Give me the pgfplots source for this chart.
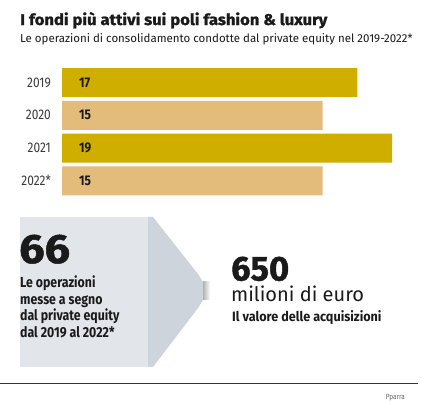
\documentclass[border=0pt]{standalone}
\usepackage{fontspec}
\setmainfont[FakeStretch=0.85]{Fira Sans}
\newfontfamily\heavyfont[BoldFeatures={FakeBold=1.2}]{Fira Sans}
\newfontfamily\widefont{Fira Sans}
\usepackage{pgfplots}
\pgfplotsset{compat=1.18}
\usepackage{pgfplotstable}

\definecolor{gold}{HTML}{CFAE00}
\definecolor{tanbar}{HTML}{E3BC7B}
\definecolor{boxlight}{HTML}{E2E5E9}
\definecolor{boxdark}{HTML}{CED4DB}
\definecolor{ink}{HTML}{1A1A1A}

% operazioni per anno (idx 0 = 2019)
\pgfplotstableread{
idx value
0 17
2 19
}\darkrows
\pgfplotstableread{
idx value
1 15
3 15
}\lightrows
\pgfplotstableread{
idx value
0 17
1 15
2 19
3 15
}\alldata

\begin{document}
\begin{tikzpicture}[x=1bp, y=1bp]
  \path[use as bounding box, fill=white] (0,0) rectangle (422,401);

  % titles
  \node[anchor=base west, inner sep=0pt, text=ink] at (20,376)
    {\scalebox{1.07}[1]{\heavyfont\bfseries\fontsize{15.5bp}{18bp}\selectfont I fondi più attivi sui poli fashion \& luxury}};
  \node[anchor=base west, inner sep=0pt, text=ink] at (20,359)
    {\widefont\fontsize{11.5bp}{14bp}\selectfont Le operazioni di consolidamento condotte dal private equity nel 2019-2022*};

  \begin{axis}[
      at={(62bp,334.8bp)}, anchor=north west,
      scale only axis,
      width=330bp, height=131bp,
      xmin=0, xmax=19,
      ymin=-0.5, ymax=3.5,
      y dir=reverse,
      axis line style={draw=none},
      xtick=\empty,
      ytick={0,1,2,3},
      yticklabels={2019,2020,2021,2022*},
      major tick length=0pt,
      tick style={draw=none},
      yticklabel style={anchor=east, inner sep=0pt, xshift=-11bp,
        font=\fontsize{14bp}{16bp}\selectfont, text=ink!85},
      clip=false,
    ]
    \addplot[xbar, bar width=29bp, bar shift=0pt, fill=gold, draw=none]
      table[x=value, y=idx] \darkrows;
    \addplot[xbar, bar width=29bp, bar shift=0pt, fill=tanbar, draw=none]
      table[x=value, y=idx] \lightrows;
    \addplot[draw=none, mark=none, point meta=explicit,
      nodes near coords={\bfseries\pgfmathprintnumber[assume math mode=true]{\pgfplotspointmeta}},
      nodes near coords style={anchor=west, inner sep=0pt, xshift=17bp,
        font=\fontsize{14bp}{16bp}\selectfont, text=ink}]
      table[x expr=0, y=idx, meta=value] \alldata;
  \end{axis}

  % riquadro
  \fill[boxlight] (20,184) rectangle (148,34);
  \fill[boxdark] (148,184) -- (153,184) -- (198,127) -- (203,119) -- (203,101)
    -- (198,93) -- (153,34) -- (148,34) -- cycle;
  \shade[left color=black!30, right color=white] (203,119) rectangle (210,101);

  \node[anchor=base west, inner sep=0pt, text=ink] at (19,138)
    {\scalebox{1.1}[1]{\heavyfont\bfseries\fontsize{41bp}{41bp}\selectfont 66}};
  \begin{scope}[every node/.style={anchor=base west, inner sep=0pt, text=ink,
      font=\bfseries\fontsize{14.5bp}{16.7bp}\selectfont}]
    \node at (20,114) {Le operazioni};
    \node at (20,97) {messe a segno};
    \node at (20,80.5) {dal private equity};
    \node at (20,64) {dal 2019 al 2022*};
  \end{scope}

  \node[anchor=base west, inner sep=0pt, text=ink] at (231,120.5)
    {\heavyfont\bfseries\fontsize{34.5bp}{35bp}\selectfont 650};
  \node[anchor=base west, inner sep=0pt, text=ink] at (231,99.3)
    {\widefont\fontsize{20bp}{22bp}\selectfont milioni di euro};
  \node[anchor=base west, inner sep=0pt, text=ink] at (232,79.3)
    {\scalebox{1.1}[1]{\bfseries\fontsize{13.5bp}{15bp}\selectfont Il valore delle acquisizioni}};

  \draw[line width=0.8bp, black!80] (0,18) -- (418,18);
  \node[anchor=base east, inner sep=0pt, text=black!60] at (405,2)
    {\fontsize{7.5bp}{8bp}\selectfont Pparra};
\end{tikzpicture}
\end{document}
